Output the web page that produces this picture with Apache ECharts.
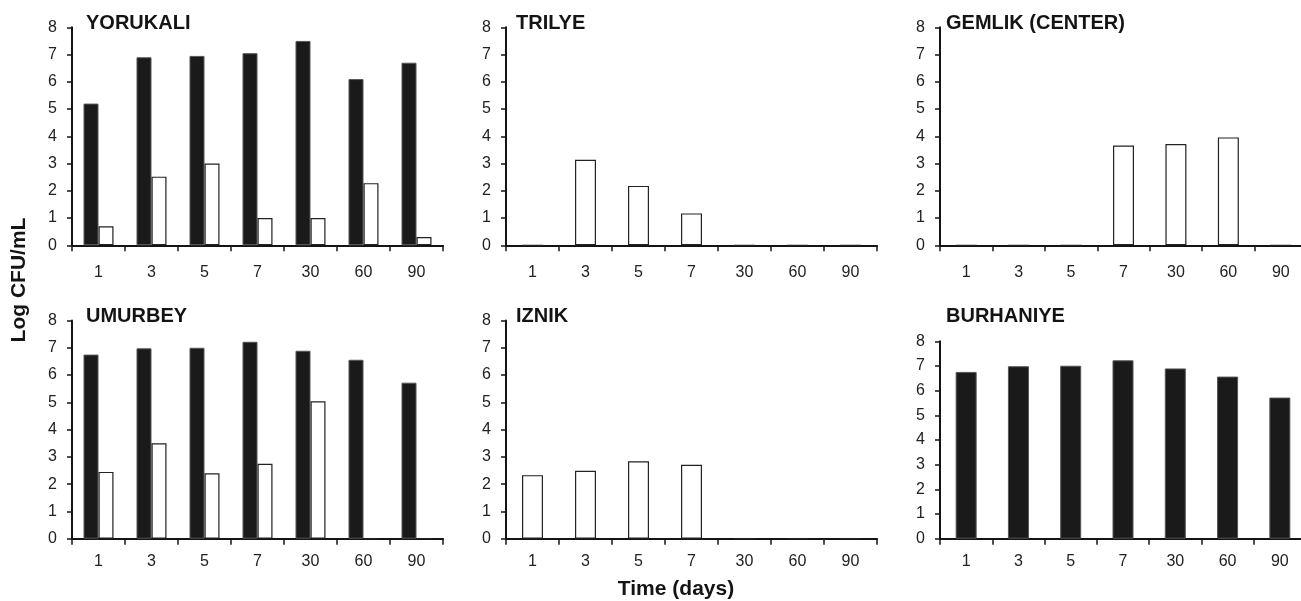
<!DOCTYPE html>
<html>
<head>
<meta charset="utf-8">
<title>Log CFU/mL by site</title>
<script src="https://cdn.jsdelivr.net/npm/echarts@6/dist/echarts.min.js"></script>
<style>
  html, body { margin: 0; padding: 0; background: #fff; }
  #chart { width: 1301px; height: 601px; }
</style>
</head>
<body>
<div id="chart"></div>
<script>
// x 轴类别（天）
const days = ['1', '3', '5', '7', '30', '60', '90'];
// y 轴刻度
const yMin = 0;
const yMax = 8;
const yStep = 1;

// 各地点数值（黑柱 / 白柱），null 表示该面板没有这一组
const siteNames = ['YORUKALI', 'TRILYE', 'GEMLIK (CENTER)', 'UMURBEY', 'IZNIK', 'BURHANIYE'];
const yorukaliBlack = [5.2, 6.9, 6.95, 7.05, 7.5, 6.1, 6.7];
const yorukaliWhite = [0.7, 2.52, 3.0, 1.0, 1.0, 2.28, 0.3];
const trilyeWhite = [0, 3.14, 2.18, 1.17, 0, 0, 0];
const gemlikWhite = [0, 0, 0, 3.66, 3.72, 3.96, 0];
const umurbeyBlack = [6.75, 6.98, 7.0, 7.22, 6.89, 6.56, 5.72];
const umurbeyWhite = [2.45, 3.5, 2.4, 2.75, 5.04, 0, 0];
const iznikWhite = [2.33, 2.49, 2.84, 2.71, 0, 0, 0];
const burhaniyeBlack = [6.76, 6.99, 7.01, 7.23, 6.9, 6.57, 5.72];

const blackSets = [yorukaliBlack, null, null, umurbeyBlack, null, burhaniyeBlack];
const whiteSets = [yorukaliWhite, trilyeWhite, gemlikWhite, umurbeyWhite, iznikWhite, null];

// 面板位置
const layout = [
  { left: 72, top: 27.3, width: 371, height: 218, titleTop: 13, titleLeft: 86, labelMargin: 19 },
  { left: 506, top: 27.3, width: 371, height: 218, titleTop: 13, titleLeft: 516, labelMargin: 19 },
  { left: 940, top: 27.3, width: 367, height: 218, titleTop: 13, titleLeft: 946, labelMargin: 19 },
  { left: 72, top: 320.5, width: 371, height: 218.2, titleTop: 306.5, titleLeft: 86, labelMargin: 15 },
  { left: 506, top: 320.5, width: 371, height: 218.2, titleTop: 306.5, titleLeft: 516, labelMargin: 15 },
  { left: 940, top: 341.3, width: 366, height: 197.4, titleTop: 306.5, titleLeft: 946, labelMargin: 15 },
];

const FONT = '"Liberation Sans", Arial, Helvetica, sans-serif';
const INK = '#141414';

const grid = [];
const xAxis = [];
const yAxis = [];
const series = [];
const title = [];

layout.forEach((pos, i) => {
  grid.push({
    left: pos.left,
    top: pos.top,
    width: pos.width,
    height: pos.height,
    containLabel: false,
    outerBoundsMode: 'none',
  });
  title.push({
    text: siteNames[i],
    left: pos.titleLeft,
    top: pos.titleTop,
    padding: 0,
    textStyle: { fontFamily: FONT, fontSize: 20, fontWeight: 'bold', color: INK },
  });
  xAxis.push({
    type: 'category',
    gridIndex: i,
    data: days,
    axisLine: { lineStyle: { color: INK, width: 2 } },
    axisTick: { show: true, length: 6, lineStyle: { color: INK, width: 1.5 } },
    axisLabel: {
      interval: 0,
      margin: pos.labelMargin,
      fontFamily: FONT,
      fontSize: 16,
      color: '#222',
    },
    splitLine: { show: false },
  });
  yAxis.push({
    type: 'value',
    gridIndex: i,
    min: yMin,
    max: yMax,
    interval: yStep,
    axisLine: { show: true, lineStyle: { color: INK, width: 2 } },
    axisTick: { show: true, length: 5, lineStyle: { color: INK, width: 1.5 } },
    axisLabel: { margin: 15, fontFamily: FONT, fontSize: 16, color: '#222' },
    splitLine: { show: false },
  });

  const black = blackSets[i];
  const white = whiteSets[i];
  const both = black && white;
  const barWidth = both ? 15 : 21;

  if (black) {
    series.push({
      type: 'bar',
      xAxisIndex: i,
      yAxisIndex: i,
      data: black,
      barWidth,
      barGap: '0%',
      itemStyle: { color: '#1a1a1a', borderColor: '#555', borderWidth: 1 },
      silent: true,
    });
  }
  if (white) {
    series.push({
      type: 'bar',
      xAxisIndex: i,
      yAxisIndex: i,
      data: white,
      barWidth,
      barGap: '0%',
      itemStyle: { color: '#fff', borderColor: '#222', borderWidth: 1.2 },
      silent: true,
    });
  }
});

const chart = echarts.init(document.getElementById('chart'), null, { renderer: 'canvas' });

chart.setOption({
  animation: false,
  backgroundColor: '#fff',
  title,
  grid,
  xAxis,
  yAxis,
  series,
  graphic: [
    {
      // y 轴总标题
      type: 'text',
      x: 19,
      y: 280,
      rotation: Math.PI / 2,
      style: {
        text: 'Log CFU/mL',
        x: 0,
        y: 0,
        align: 'center',
        verticalAlign: 'middle',
        font: `bold 21px ${FONT}`,
        fill: INK,
      },
    },
    {
      // x 轴总标题
      type: 'text',
      style: {
        text: 'Time (days)',
        x: 676,
        y: 589,
        align: 'center',
        verticalAlign: 'middle',
        font: `bold 21px ${FONT}`,
        fill: INK,
      },
    },
  ],
});
</script>
</body>
</html>
